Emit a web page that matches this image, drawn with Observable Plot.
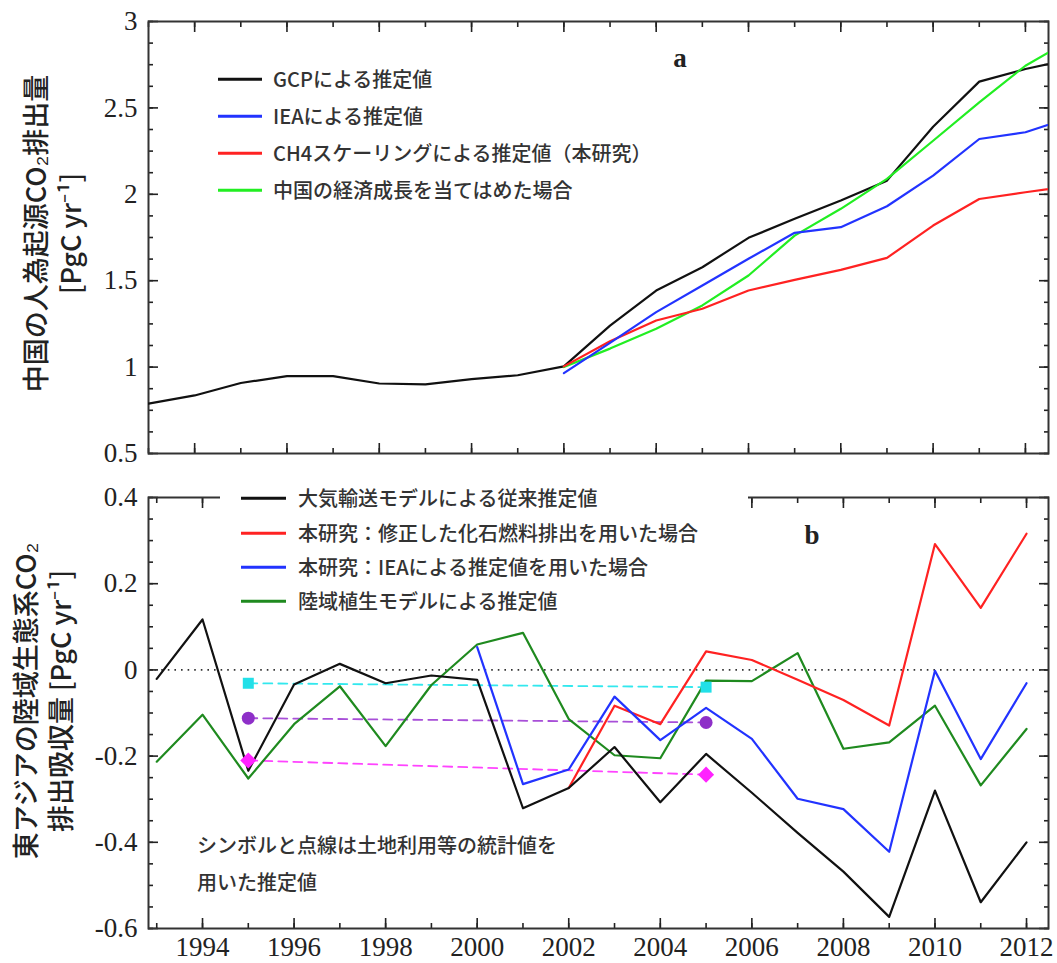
<!DOCTYPE html>
<html><head><meta charset="utf-8">
<script src="https://cdn.jsdelivr.net/npm/d3@7"></script>
<script src="https://cdn.jsdelivr.net/npm/@observablehq/plot@0.6"></script>
<style>
body{margin:0;background:#fff;}
#wrap{position:relative;width:1057px;height:963px;overflow:hidden;}
#wrap svg{display:block;}
#wrap svg g[aria-label$="tick label"] text{font-family:"Liberation Serif","DejaVu Serif",serif !important;}
.ov{position:absolute;white-space:nowrap;font-family:"Noto Sans CJK JP",sans-serif;color:#333;line-height:1;}
.leg{font-size:20px;font-weight:500;transform:translateY(-50%);}
.sw{position:absolute;height:2.5px;transform:translateY(-50%);}
.lab{font-family:"Liberation Serif",serif;font-weight:bold;font-size:27px;color:#222;transform:translate(-50%,-50%);}
</style></head>
<body><div id="wrap"></div>
<script>
// ---------- Panel a : China anthropogenic CO2 emissions [PgC/yr] ----------
const yearsGCP = [1993,1994,1995,1996,1997,1998,1999,2000,2001,2002,2003,2004,2005,2006,2007,2008,2009,2010,2011,2012,2013];
const gcp      = [0.789,0.836,0.908,0.948,0.948,0.905,0.900,0.930,0.953,1.004,1.240,1.443,1.578,1.748,1.858,1.964,2.079,2.391,2.652,2.725,2.783];
const yearsNew = [2002,2003,2004,2005,2006,2007,2008,2009,2010,2011,2012,2013];
const iea      = [0.965,1.140,1.318,1.472,1.627,1.777,1.810,1.931,2.108,2.320,2.359,2.447];
const ch4      = [1.004,1.150,1.270,1.338,1.443,1.505,1.563,1.632,1.819,1.973,2.012,2.050];
const econ     = [1.000,1.107,1.222,1.357,1.530,1.761,1.916,2.089,2.310,2.532,2.744,2.898];

// ---------- Panel b : East Asia terrestrial CO2 flux [PgC/yr] ----------
const yearsB     = [1993,1994,1995,1996,1997,1998,1999,2000,2001,2002,2003,2004,2005,2006,2007,2008,2009,2010,2011,2012];
const bPrior     = [-0.021,0.117,-0.234,-0.034,0.014,-0.031,-0.013,-0.023,-0.321,-0.274,-0.179,-0.307,-0.195,-0.285,-0.378,-0.468,-0.573,-0.280,-0.539,-0.400];
const bVeg       = [-0.213,-0.104,-0.252,-0.126,-0.038,-0.177,-0.035,0.059,0.086,-0.114,-0.198,-0.205,-0.025,-0.026,0.039,-0.183,-0.168,-0.083,-0.268,-0.137];
const yearsIEA   = [2000,2001,2002,2003,2004,2005,2006,2007,2008,2009,2010,2011,2012];
const bIEA       = [0.053,-0.265,-0.231,-0.062,-0.163,-0.088,-0.160,-0.299,-0.323,-0.422,-0.002,-0.207,-0.031];
const yearsFos   = [2002,2003,2004,2005,2006,2007,2008,2009,2010,2011,2012];
const bFossil    = [-0.274,-0.083,-0.126,0.043,0.023,-0.023,-0.070,-0.129,0.292,0.144,0.316];
const symYears   = [1995,2005];
const symCyan    = [-0.031,-0.040];
const symPurple  = [-0.112,-0.122];
const symMagenta = [-0.210,-0.243];

// ---------- ticks & labels ----------
const xMajor = [1994,1996,1998,2000,2002,2004,2006,2008,2010,2012];
const xMinor = [1993,1994,1995,1996,1997,1998,1999,2000,2001,2002,2003,2004,2005,2006,2007,2008,2009,2010,2011,2012];
const yTopMajor = [0.5,1,1.5,2,2.5,3];
const yTopMinor = d3.range(0.5,3.0001,0.125);
const yBotMajor = [-0.6,-0.4,-0.2,0,0.2,0.4];
const yBotMinor = d3.range(-0.6,0.4001,0.05);

const titleA1 = "中国の人為起源CO₂排出量";
const titleA2 = "[PgC yr⁻¹]";
const titleB1 = "東アジアの陸域生態系CO₂";
const titleB2 = "排出吸収量 [PgC yr⁻¹]";
const legendA = ["GCPによる推定値","IEAによる推定値","CH4スケーリングによる推定値（本研究）","中国の経済成長を当てはめた場合"];
const legendAColors = ["#111111","#2233ff","#ff2222","#22ee22"];
const legendB = ["大気輸送モデルによる従来推定値","本研究：修正した化石燃料排出を用いた場合","本研究：IEAによる推定値を用いた場合","陸域植生モデルによる推定値"];
const legendBColors = ["#111111","#ff2222","#2233ff","#1f8a1f"];
const noteB = ["シンボルと点線は土地利用等の統計値を","用いた推定値"];

const serif = "'Liberation Serif','Times New Roman',serif";
const cjk = "'Noto Sans CJK JP',sans-serif";
const blank = () => "";

function axes(yMaj, yMin, showX) {
  const o = {label:null, strokeWidth:1.6, fontFamily:serif, fontSize:27, fill:"#222"};
  return [
    Plot.axisX({...o, anchor:"bottom", ticks:xMinor, tickSize:-5, tickFormat:blank}),
    Plot.axisX({...o, anchor:"bottom", ticks:xMajor, tickSize:-10, tickPadding:18, tickFormat: showX ? (d => String(d)) : blank}),
    Plot.axisX({...o, anchor:"top", ticks:xMinor, tickSize:-5, tickFormat:blank}),
    Plot.axisX({...o, anchor:"top", ticks:xMajor, tickSize:-10, tickFormat:blank}),
    Plot.axisY({...o, anchor:"left", ticks:yMin, tickSize:-5, tickFormat:blank}),
    Plot.axisY({...o, anchor:"left", ticks:yMaj, tickSize:-10, tickPadding:21, tickFormat: d => String(d)}),
    Plot.axisY({...o, anchor:"right", ticks:yMin, tickSize:-5, tickFormat:blank}),
    Plot.axisY({...o, anchor:"right", ticks:yMaj, tickSize:-10, tickFormat:blank}),
    Plot.frame({stroke:"#333", strokeWidth:2})
  ];
}
function ytitle(t, dx, dy) {
  return Plot.text([t], {frameAnchor:"left", dx, dy, rotate:-90, text:d=>d, fontFamily:cjk, fontSize:27, fontWeight:500, fill:"#222", textAnchor:"middle", lineAnchor:"middle"});
}

const plotA = Plot.plot({
  width:1057, height:480, marginLeft:148, marginRight:9, marginTop:21, marginBottom:27,
  x:{domain:[1993,2012.5]}, y:{domain:[0.5,3]},
  style:{fontFamily:serif, fontSize:"26px", color:"#222", background:"white", overflow:"visible"},
  marks:[
    ...axes(yTopMajor, yTopMinor, false),
    Plot.lineY(gcp, {x:yearsGCP, stroke:"#111", strokeWidth:2.2, clip:true}),
    Plot.lineY(econ, {x:yearsNew, stroke:"#22ee22", strokeWidth:2.2, clip:true}),
    Plot.lineY(ch4, {x:yearsNew, stroke:"#ff2222", strokeWidth:2.2, clip:true}),
    Plot.lineY(iea, {x:yearsNew, stroke:"#2233ff", strokeWidth:2.2, clip:true}),
    ytitle(titleA1, -111, -4),
    ytitle(titleA2, -76, -4)
  ]
});

const plotB = Plot.plot({
  width:1057, height:483, marginLeft:148, marginRight:9, marginTop:17, marginBottom:35,
  x:{domain:[1992.82,2012.48]}, y:{domain:[-0.6,0.4]},
  style:{fontFamily:serif, fontSize:"26px", color:"#222", background:"white", overflow:"visible"},
  marks:[
    ...axes(yBotMajor, yBotMinor, true),
    Plot.ruleY([0], {stroke:"#333", strokeWidth:1.6, strokeDasharray:"1.6,5"}),
    Plot.lineY(symCyan, {x:symYears, stroke:"#33e8ee", strokeWidth:1.8, strokeDasharray:"9,6"}),
    Plot.lineY(symPurple, {x:symYears, stroke:"#a84fd8", strokeWidth:1.8, strokeDasharray:"9,6"}),
    Plot.lineY(symMagenta, {x:symYears, stroke:"#ff44ff", strokeWidth:1.8, strokeDasharray:"9,6"}),
    Plot.lineY(bVeg, {x:yearsB, stroke:"#1f8a1f", strokeWidth:2.2}),
    Plot.lineY(bFossil, {x:yearsFos, stroke:"#ff2222", strokeWidth:2.2}),
    Plot.lineY(bIEA, {x:yearsIEA, stroke:"#2233ff", strokeWidth:2.2}),
    Plot.lineY(bPrior, {x:yearsB, stroke:"#111", strokeWidth:2.2}),
    Plot.dot(symCyan, {x:symYears, y:d=>d, symbol:"square", r:6.2, fill:"#22e0e8"}),
    Plot.dot(symPurple, {x:symYears, y:d=>d, symbol:"circle", r:6.5, fill:"#8e2fc8"}),
    Plot.dot(symMagenta, {x:symYears, y:d=>d, symbol:"square", rotate:45, r:6.4, fill:"#ff22ff"}),
    ytitle(titleB1, -121, -12),
    ytitle(titleB2, -86, -12)
  ]
});

const wrap = document.getElementById("wrap");
wrap.appendChild(plotA);
wrap.appendChild(plotB);

function addEl(cls, css, text) {
  const d = document.createElement("div");
  d.className = cls;
  Object.assign(d.style, css);
  if (text != null) d.textContent = text;
  wrap.appendChild(d);
  return d;
}
// legend a
const legAY = [79,116,153,190];
legendA.forEach((t,i) => {
  addEl("sw", {left:"218px", top:legAY[i]+"px", width:"44px", background:legendAColors[i]});
  addEl("ov leg", {left:"273px", top:legAY[i]+"px"}, t);
});
// legend b with white background box
addEl("ov", {left:"220px", top:"484px", width:"528px", height:"132px", background:"#fff"});
const legBY = [498,533,567,601];
legendB.forEach((t,i) => {
  addEl("sw", {left:"241px", top:legBY[i]+"px", width:"45px", background:legendBColors[i]});
  addEl("ov leg", {left:"298px", top:legBY[i]+"px"}, t);
});
// note
addEl("ov leg", {left:"197px", top:"845px"}, noteB[0]);
addEl("ov leg", {left:"197px", top:"882px"}, noteB[1]);
// panel labels
addEl("ov lab", {left:"680px", top:"58px"}, "a");
addEl("ov lab", {left:"812px", top:"535px"}, "b");
</script>
</body></html>
